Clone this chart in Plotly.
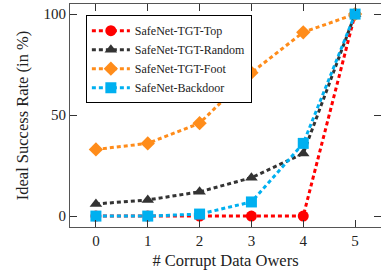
import plotly.graph_objects as go

x_owners = [0, 1, 2, 3, 4, 5]
tgt_top = [0, 0, 0, 0, 0, 100]
tgt_random = [6, 8, 12, 19, 31, 100]
tgt_foot = [33, 36, 46, 71, 91, 100]
backdoor = [0, 0, 1, 7, 36, 100]

series = [
    ("SafeNet-TGT-Top", tgt_top, "#FF0000", "circle"),
    ("SafeNet-TGT-Random", tgt_random, "#333333", "triangle-up"),
    ("SafeNet-TGT-Foot", tgt_foot, "#FF8C1A", "diamond"),
    ("SafeNet-Backdoor", backdoor, "#00B0F0", "square"),
]

fig = go.Figure()
for name, ys, color, sym in series:
    fig.add_trace(go.Scatter(
        x=x_owners, y=ys, name=name, mode="lines+markers",
        line=dict(color=color, width=3, dash="4px,3px"),
        marker=dict(color=color, symbol=sym, size=11, line=dict(width=0)),
    ))

font = "Liberation Serif"
axis_common = dict(
    showline=True, linecolor="#555555", linewidth=1, mirror="ticks",
    ticks="inside", ticklen=7, tickcolor="#333333", showgrid=False, zeroline=False,
    tickfont=dict(family=font, size=15, color="#222222"),
)
fig.update_layout(
    width=381, height=271,
    margin=dict(l=70, r=0, t=4, b=44),
    plot_bgcolor="white", paper_bgcolor="white",
    font=dict(family=font, color="#222222"),
    xaxis=dict(range=[-0.5, 5.5], tickvals=x_owners,
               title=dict(text="# Corrupt Data Owers", font=dict(family=font, size=16.5), standoff=6),
               **axis_common),
    yaxis=dict(range=[-5.4, 105], tickvals=[0, 50, 100],
               title=dict(text="Ideal Success Rate (in %)", font=dict(family=font, size=16.5), standoff=10),
               **axis_common),
    legend=dict(x=0.051, y=0.95, xanchor="left", yanchor="top",
                bordercolor="black", borderwidth=1, bgcolor="white",
                font=dict(family=font, size=12, color="#222222"),
                tracegroupgap=0, itemwidth=38),
    showlegend=True,
)
fig.write_html("out.html", config={"displayModeBar": False},
               post_script="document.body.style.margin='0';")
